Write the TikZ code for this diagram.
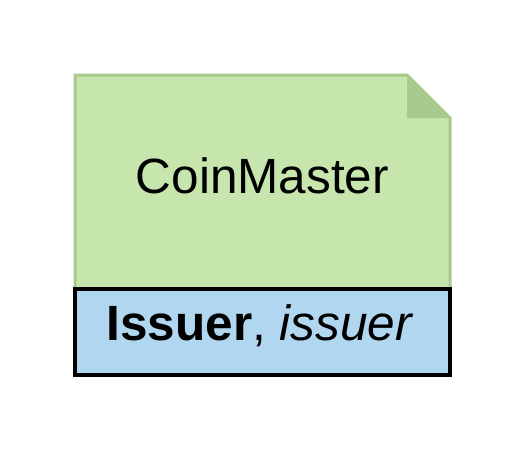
\documentclass[tikz,border=0pt]{standalone}
\usepackage{fontspec}
\setmainfont{Liberation Sans}
\definecolor{notegreen}{HTML}{C6E6AE}
\definecolor{notegreendark}{HTML}{A9C98E}
\definecolor{roleblue}{HTML}{B1D6F0}

\begin{document}
\begin{tikzpicture}
    [x=1pt,y=-1pt,every node/.style={inner sep=0pt,font=\fontsize{49.5}{59}\selectfont}]
    \useasboundingbox (0,0) rectangle (525,450);

    % note with folded corner
    \draw[fill=notegreen,draw=notegreendark,line width=3pt,line join=miter]
        (75,289) -- (75,75) -- (407,75) -- (450,118) -- (450,289);
    \fill[notegreendark] (407,75) -- (407,118) -- (450,118) -- cycle;
    \node[anchor=base] (master) at (262.5,193) {CoinMaster};

    % role box
    \node[draw=black,fill=roleblue,line width=3.5pt,minimum width=375pt,minimum height=86pt] (role) at (262.5,332) {};
    \node[anchor=base] (issuer) at (260,340) {\textbf{Issuer}, \textit{issuer}};
  \end{tikzpicture}
\end{document}
